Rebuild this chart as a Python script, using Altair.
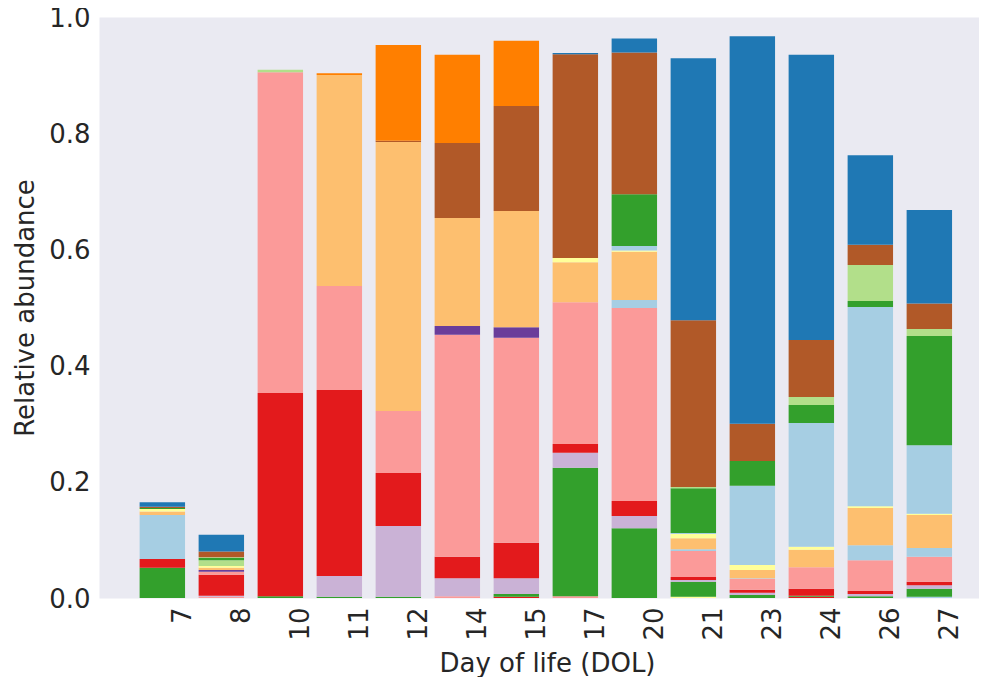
import altair as alt
import pandas as pd

# ---- data ------------------------------------------------------------------
days = ["7", "8", "10", "11", "12", "14", "15", "17", "20", "21", "23", "24", "26", "27"]

# taxa in stacking order, bottom -> top, with their colours (Paired palette)
taxa = ["T01", "T02", "T03", "T04", "T05", "T06", "T07", "T08", "T09", "T10",
        "T11", "T12", "T13", "T14", "T15", "T16", "T17", "T18", "T19"]
colors = ["#a6cee3", "#ffff99", "#e31a1c", "#fb9a99", "#33a02c", "#cab2d6", "#e31a1c",
          "#fb9a99", "#a6cee3", "#6a3d9a", "#fdbf6f", "#ffff99", "#a6cee3", "#b2df8a",
          "#33a02c", "#b2df8a", "#b15928", "#ff7f00", "#1f78b4"]

# relative abundance per taxon, one value per day (same order as `days`)
T01 = [0, 0, 0, 0, 0, 0, 0, 0, 0, 0, 0, 0, 0, .002]
T02 = [0, 0, 0, 0, 0, 0, 0, 0, 0, .002, 0, 0, 0, 0]
T03 = [0, 0, 0, 0, 0, 0, .002, 0, 0, 0, 0, .002, 0, 0]
T04 = [0, .002, 0, 0, 0, .003, 0, .003, 0, 0, 0, 0, 0, 0]
T05 = [.052, 0, .003, .002, .002, 0, .005, .221, .120, .026, .005, .002, .003, .014]
T06 = [0, .002, 0, .036, .122, .031, .027, .026, .021, .003, .004, 0, .004, .006]
T07 = [.015, .036, .350, .320, .091, .037, .061, .015, .026, .005, .005, .012, .005, .006]
T08 = [0, .005, .552, .179, .107, .382, .353, .244, .332, .045, .019, .037, .053, .043]
T09 = [.076, 0, 0, 0, 0, 0, 0, 0, .014, .003, .001, 0, .026, .015]
T10 = [0, .003, 0, 0, 0, .015, .018, 0, 0, 0, 0, 0, 0, 0]
T11 = [.006, .004, 0, .363, .463, .186, .200, .069, .083, .019, .014, .030, .064, .057]
T12 = [.004, .003, 0, 0, 0, 0, 0, .007, .002, .007, .009, .005, .003, .002]
T13 = [0, 0, 0, 0, 0, 0, 0, 0, .008, .002, .136, .213, .343, .118]
T14 = [0, .010, 0, 0, 0, 0, 0, 0, 0, 0, 0, 0, 0, 0]
T15 = [.002, .004, 0, 0, 0, 0, 0, 0, .089, .077, .043, .031, .010, .188]
T16 = [0, .001, .004, 0, 0, 0, 0, 0, 0, .002, 0, .014, .062, .012]
T17 = [.002, .010, 0, 0, .002, .129, .181, .351, .244, .287, .064, .098, .035, .044]
T18 = [0, 0, 0, .003, .165, .152, .112, 0, 0, 0, 0, 0, 0, 0]
T19 = [.008, .029, 0, 0, 0, 0, 0, .002, .024, .451, .667, .491, .154, .161]

series = [T01, T02, T03, T04, T05, T06, T07, T08, T09, T10,
          T11, T12, T13, T14, T15, T16, T17, T18, T19]

y_ticks = [0.0, 0.2, 0.4, 0.6, 0.8, 1.0]

rows = []
for rank, (name, vals) in enumerate(zip(taxa, series)):
    for pos, v in enumerate(vals):
        if v > 0:
            rows.append({"taxon": name, "rank": rank, "pos": pos, "day": days[pos], "value": v})
df = pd.DataFrame(rows)

FONT = "DejaVu Sans"
INK = "#262626"
HALF = 0.385
PLOT_W = 880
STEP = 59
label_expr = "[" + ",".join("'%s'" % d for d in days) + "][datum.value]"

chart = (
    alt.Chart(df)
    .transform_stack(stack="value", as_=["y0", "y1"], groupby=["pos"],
                     sort=[alt.SortField("rank", order="ascending")])
    .transform_calculate(x0=f"datum.pos - {HALF}", x1=f"datum.pos + {HALF}")
    .mark_bar()
    .encode(
        x=alt.X("x0:Q",
                scale=alt.Scale(domain=[-1.0735, -1.0735 + PLOT_W / STEP], nice=False, zero=False),
                axis=alt.Axis(values=list(range(len(days))), labelExpr=label_expr,
                              labelAngle=-90, labelAlign="right", labelBaseline="middle",
                              labelOffset=20, labelPadding=9, ticks=False, domain=False,
                              grid=False, labelFontSize=26, labelColor=INK, labelFont=FONT,
                              title="Day of life (DOL)", titleFontSize=26, titleColor=INK,
                              titleFont=FONT, titleFontWeight="normal", titleX=448,
                              titleY=73, titleBaseline="alphabetic", titleAlign="center")),
        x2="x1:Q",
        y=alt.Y("y0:Q",
                scale=alt.Scale(domain=[0, 1], nice=False),
                axis=alt.Axis(values=y_ticks, format=".1f", ticks=False, domain=False,
                              grid=False, labelFontSize=26, labelColor=INK, labelFont=FONT,
                              labelPadding=9, labelOffset=1,
                              title="Relative abundance", titleFontSize=26, titleColor=INK,
                              titleFont=FONT, titleFontWeight="normal", titleX=-66,
                              titleY=290.5, titleBaseline="alphabetic", titleAlign="center",
                              titleAngle=-90)),
        y2="y1:Q",
        color=alt.Color("taxon:N", scale=alt.Scale(domain=taxa, range=colors), legend=None),
    )
    .properties(
        width=PLOT_W, height=581,
        title=alt.Title("Infant 3", fontSize=31, color=INK, font=FONT, fontWeight="normal",
                        anchor="middle", baseline="alphabetic", offset=14),
        autosize=alt.AutoSizeParams(type="none"),
        padding={"left": 91, "top": 9, "right": 0, "bottom": 79},
        background="white",
    )
    .configure_view(fill="#EAEAF2", stroke="transparent")
)

chart.save("out.html", embed_options={"renderer": "svg", "actions": False})
